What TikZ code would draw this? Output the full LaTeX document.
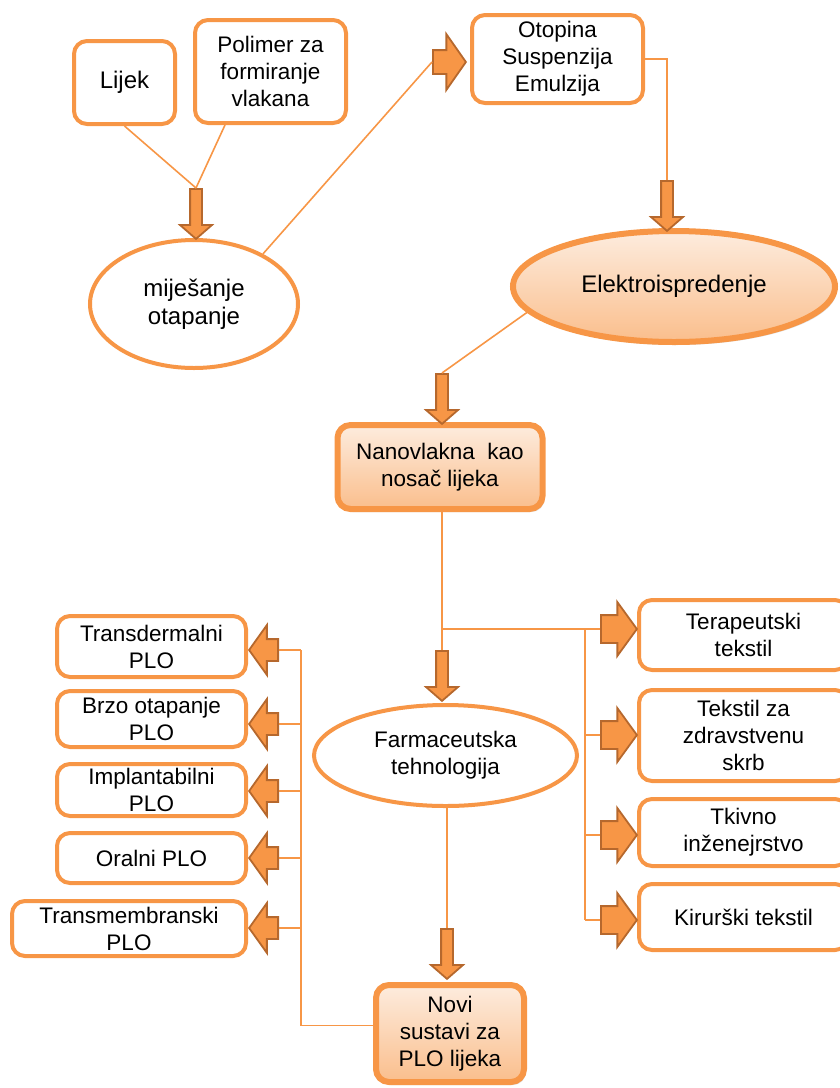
\documentclass[tikz,border=0pt]{standalone}
\usepackage{fontspec}
\setmainfont{Liberation Sans}
\usetikzlibrary{shapes.geometric,shapes.arrows,shadows}

\definecolor{orLine}{RGB}{247,150,70}
\definecolor{orFill}{RGB}{247,150,70}
\definecolor{orDark}{RGB}{182,104,45}
\definecolor{peachTop}{RGB}{253,236,222}
\definecolor{peachBot}{RGB}{250,190,140}

\tikzset{
  box/.style={draw=orLine, line width=4pt, rounded corners=13pt, fill=white, align=center,
    inner sep=0pt, font=\fontsize{22.5}{27}\selectfont},
  hibox/.style={box, line width=6pt, top color=peachTop, bottom color=peachBot,
    drop shadow={opacity=0.25, shadow xshift=2pt, shadow yshift=-3pt}},
  oval/.style={ellipse, draw=orLine, line width=4pt, fill=white, align=center,
    inner sep=0pt, font=\fontsize{24}{28}\selectfont},
  link/.style={draw=orLine, line width=1.6pt},
  barr/.style={single arrow, draw=orDark, fill=orFill, line width=1.8pt,
    inner xsep=0pt, anchor=tail},
  downarr/.style={barr, rotate=-90, inner ysep=5pt, single arrow head extend=10pt,
    single arrow tip angle=98, minimum height=50pt, minimum width=30pt},
  toparr/.style={barr, inner ysep=11pt, single arrow head extend=16pt,
    single arrow tip angle=110, minimum height=33pt, minimum width=54pt},
  rightarr/.style={barr, inner ysep=13pt, single arrow head extend=13pt,
    single arrow tip angle=108, minimum height=36pt, minimum width=52pt},
  leftarr/.style={barr, rotate=180, inner ysep=10pt, single arrow head extend=14pt,
    single arrow tip angle=109, minimum height=29pt, minimum width=48pt}
}

\begin{document}
\begin{tikzpicture}[x=1pt,y=1pt,yscale=-1]
\useasboundingbox (0,0) rectangle (839,1088);

% upper part
\node[box, font=\fontsize{24}{28}\selectfont, minimum width=101pt, minimum height=83pt] (lijek) at (124.5,82.5) {Lijek};
\node[box, minimum width=151pt, minimum height=103pt] (polimer) at (270.5,71.5) {Polimer za\\formiranje\\vlakana};
\node[oval, minimum width=208pt, minimum height=128pt] (mix) at (194,304) {miješanje\\otapanje};
\node[box, minimum width=171pt, minimum height=88pt] (otop) at (557.5,59) {Otopina\\Suspenzija\\Emulzija};
\node[oval, line width=6pt, top color=peachTop, bottom color=peachBot,
  drop shadow={opacity=0.25, shadow xshift=2pt, shadow yshift=-3pt},
  minimum width=322pt, minimum height=111pt] (elektro) at (674,286.5) {Elektroispredenje};
\node[hibox, minimum width=205pt, minimum height=84pt] (nano) at (440,467) {Nanovlakna~ kao\\nosač lijeka};

\node[downarr] (a1) at (196,188) {};
\node[toparr] (a0) at (432,62) {};
\node[downarr] (a2) at (667,180) {};
\node[downarr] (a3) at (442,373) {};

\draw[link] (lijek.south) -- (a1.tail);
\draw[link] ([xshift=32pt]polimer.south west) -- (a1.tail);
\draw[link] (mix.36) -- (a0.tail);
\draw[link] (otop.east) -| (a2.tail);
\draw[link] (elektro.190) -- (a3.tail);

% lower part
\node[oval, font=\fontsize{22.5}{27}\selectfont, minimum width=263pt, minimum height=101pt] (farma) at (445.5,755.5) {Farmaceutska\\tehnologija};
\node[hibox, minimum width=148pt, minimum height=97pt] (novi) at (450,1033.5) {Novi\\sustavi za\\PLO lijeka};

\node[box, minimum width=189pt, minimum height=61pt] (transd) at (151.5,646.5) {Transdermalni\\PLO};
\node[box, minimum width=189pt, minimum height=56pt] (brzo) at (151.5,719) {Brzo otapanje\\PLO};
\node[box, minimum width=189pt, minimum height=52pt] (impl) at (151.5,790) {Implantabilni\\PLO};
\node[box, minimum width=189pt, minimum height=50pt] (oral) at (151.5,858) {Oralni PLO};
\node[box, minimum width=234pt, minimum height=55pt] (transm) at (129,928.5) {Transmembranski\\PLO};

\node[box, minimum width=209pt, minimum height=70pt] (terap) at (743.5,635) {Terapeutski\\tekstil};
\node[box, minimum width=209pt, minimum height=91pt] (zdrav) at (743.5,735.5) {Tekstil za\\zdravstvenu\\skrb};
\node[box, minimum width=209pt, minimum height=67pt] (tkivo) at (743.5,832.5) {Tkivno\\inženejrstvo};
\node[box, minimum width=209pt, minimum height=66pt] (kirur) at (743.5,917) {Kirurški tekstil};

\node[downarr] (a4) at (442,650) {};
\node[downarr] (a5) at (447,928) {};
\node[rightarr] (rr1) at (600,629) {};
\node[rightarr] (rr2) at (600,735) {};
\node[rightarr] (rr3) at (600,835) {};
\node[rightarr] (rr4) at (600,920) {};
\node[leftarr] (ll1) at (279,650) {};
\node[leftarr] (ll2) at (279,724) {};
\node[leftarr] (ll3) at (279,791) {};
\node[leftarr] (ll4) at (279,858) {};
\node[leftarr] (ll5) at (279,928) {};

\draw[link] (a4.tail |- nano.south) -- (a4.tail);
\coordinate (fork) at (a4.tail |- rr1.tail);
\draw[link] (fork) -- (rr1.tail);
\coordinate (rbus) at (585,629);
\draw[link] (rbus) -- (rbus |- rr4.tail);
\foreach \n in {2,3,4}
  \draw[link] (rbus |- rr\n.tail) -- (rr\n.tail);
\draw[link] (a5.tail |- farma.south) -- (a5.tail);
\coordinate (lbus) at (301,650);
\draw[link] (novi.174) -| (lbus);
\foreach \n in {1,...,5}
  \draw[link] (lbus |- ll\n.tail) -- (ll\n.tail);

\end{tikzpicture}
\end{document}
